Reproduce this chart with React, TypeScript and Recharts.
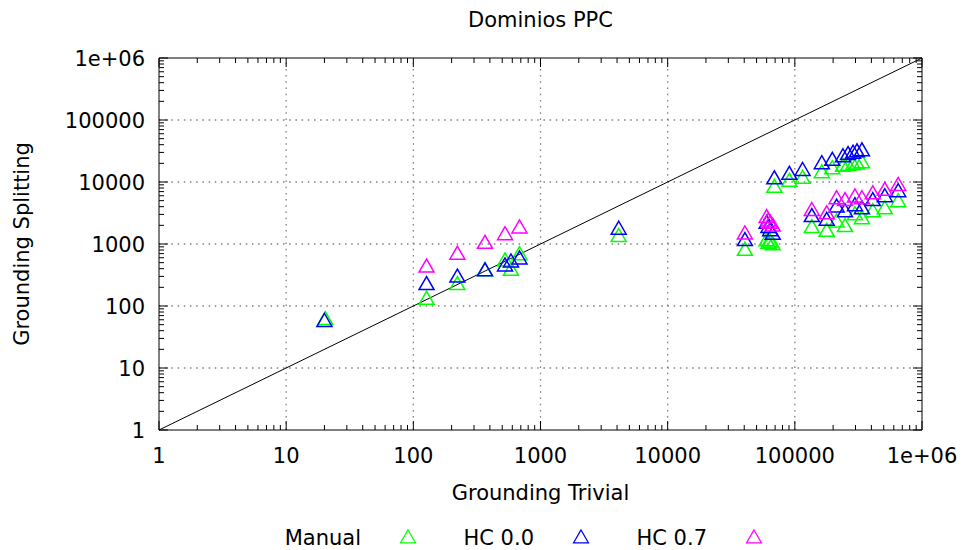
import React from 'react';
import { ScatterChart, Scatter, XAxis, YAxis, ReferenceLine } from 'recharts';

const FONT = '"DejaVu Sans", Verdana, sans-serif';
const TITLE = 'Dominios PPC';
const X_LABEL = 'Grounding Trivial';
const Y_LABEL = 'Grounding Splitting';

const decadeTicks = [1, 10, 100, 1000, 10000, 100000, 1000000];
const decadeLabels = ['1', '10', '100', '1000', '10000', '100000', '1e+06'];
const minorMultipliers = [2, 3, 4, 5, 6, 7, 8, 9];
const gridValues = [10, 100, 1000, 10000, 100000];

const seriesNames = ['Manual', 'HC 0.0', 'HC 0.7'];
const seriesColors = ['#00ff00', '#0000ff', '#ff00ff'];

// Manual (green)
const manualX = [20.3, 127, 222, 366, 526, 586, 684, 4120, 40500, 60000, 62000, 64000, 67000,
  69000, 90500, 115000, 163000, 197000, 239000, 262000, 287000, 308000, 337000,
  136000, 178000, 213000, 248000, 297000, 337000, 410000, 510000, 650000];
const manualY = [59, 125, 216, 360, 520, 368, 657, 1290, 771, 1100, 1000, 1050, 950,
  8000, 10000, 11200, 13800, 16000, 17500, 18000, 18500, 19000, 20000,
  1800, 1560, 2210, 1860, 2900, 2500, 3240, 3600, 4700];

// HC 0.0 (blue)
const hc00X = [20, 127, 222, 366, 526, 586, 684, 4120, 40500, 60000, 62000, 64000, 67000,
  69000, 90500, 115000, 163000, 197000, 239000, 262000, 287000, 308000, 337000,
  136000, 178000, 213000, 248000, 297000, 337000, 410000, 510000, 650000];
const hc00Y = [55, 216, 286, 361, 432, 500, 560, 1690, 1110, 2100, 1800, 1600, 1400,
  11000, 13000, 15000, 19300, 21800, 25000, 27000, 28500, 30000, 31000,
  2700, 2350, 3850, 3240, 4050, 3600, 4900, 5650, 6800];

// HC 0.7 (magenta)
const hc07X = [127, 222, 366, 526, 684, 40500, 60000, 62000, 64000, 67000,
  136000, 178000, 213000, 248000, 297000, 337000, 410000, 510000, 650000];
const hc07Y = [415, 667, 1000, 1380, 1770, 1420, 2600, 2300, 2100, 1900,
  3400, 3000, 5250, 4900, 5600, 5250, 6300, 7150, 8600];

const toPoints = (xs: number[], ys: number[]) => xs.map((x, i) => ({ x, y: ys[i] }));
const seriesData = [toPoints(manualX, manualY), toPoints(hc00X, hc00Y), toPoints(hc07X, hc07Y)];

const allTicks: number[] = [];
decadeTicks.slice(0, -1).forEach((d) => {
  allTicks.push(d);
  minorMultipliers.forEach((m) => allTicks.push(d * m));
});
allTicks.push(decadeTicks[decadeTicks.length - 1]);

const MAJOR = 9;
const MINOR = 5;
const FS = 21;
const isMajor = (v: number) => decadeTicks.indexOf(v) >= 0;
const labelOf = (v: number) => decadeLabels[decadeTicks.indexOf(v)];

const TRI_W = 15;
const TRI_H = 13;
const triPoints = (cx: number, cy: number) =>
  `${cx},${cy - (2 * TRI_H) / 3} ${cx - TRI_W / 2},${cy + TRI_H / 3} ${cx + TRI_W / 2},${cy + TRI_H / 3}`;

const makeShape = (color: string) => (props: any) => {
  const { cx, cy } = props;
  if (cx == null || cy == null) return <g />;
  return <polygon points={triPoints(cx, cy)} fill="none" stroke={color} strokeWidth={1.5} strokeLinejoin="miter" />;
};

const BottomTick = (props: any) => {
  const { x, y, payload } = props;
  const v = payload.value;
  const major = isMajor(v);
  return (
    <g>
      <line x1={x} y1={y} x2={x} y2={y - (major ? MAJOR : MINOR)} stroke="#000" strokeWidth={1} />
      {major && (
        <text x={x} y={y + 33} textAnchor="middle" fontSize={FS} fontFamily={FONT} fill="#000">
          {labelOf(v)}
        </text>
      )}
    </g>
  );
};

const TopTick = (props: any) => {
  const { x, y, payload } = props;
  const major = isMajor(payload.value);
  return <line x1={x} y1={y} x2={x} y2={y + (major ? MAJOR : MINOR)} stroke="#000" strokeWidth={1} />;
};

const LeftTick = (props: any) => {
  const { x, y, payload } = props;
  const v = payload.value;
  const major = isMajor(v);
  return (
    <g>
      <line x1={x} y1={y} x2={x + (major ? MAJOR : MINOR)} y2={y} stroke="#000" strokeWidth={1} />
      {major && (
        <text x={x - 14} y={y + 7.6} textAnchor="end" fontSize={FS} fontFamily={FONT} fill="#000">
          {labelOf(v)}
        </text>
      )}
    </g>
  );
};

const RightTick = (props: any) => {
  const { x, y, payload } = props;
  const major = isMajor(payload.value);
  return <line x1={x} y1={y} x2={x - (major ? MAJOR : MINOR)} y2={y} stroke="#000" strokeWidth={1} />;
};

const XLabel = (props: any) => {
  const vb = props.viewBox;
  return (
    <text x={vb.x + vb.width / 2} y={vb.y + 70} textAnchor="middle" fontSize={FS} fontFamily={FONT} fill="#000">
      {X_LABEL}
    </text>
  );
};

const YLabel = (props: any) => {
  const vb = props.viewBox;
  const cx = vb.x + 29;
  const cy = vb.y + vb.height / 2;
  return (
    <text x={cx} y={cy} transform={`rotate(-90 ${cx} ${cy})`} textAnchor="middle" fontSize={FS} fontFamily={FONT} fill="#000">
      {Y_LABEL}
    </text>
  );
};

const Overlay = () => (
  <svg width={968} height={550} style={{ position: 'absolute', left: 0, top: 0, pointerEvents: 'none' }}>
    <text x={540.5} y={27} textAnchor="middle" fontSize={FS} fontFamily={FONT} fill="#000">
      {TITLE}
    </text>
    {seriesNames.map((name, i) => {
      const textEnd = 361 + 173 * i;
      const cx = textEnd + 47;
      const cy = 538.5;
      return (
        <g key={name}>
          <text x={textEnd} y={545} textAnchor="end" fontSize={FS} fontFamily={FONT} fill="#000">
            {name}
          </text>
          <polygon points={triPoints(cx, cy)} fill="none" stroke={seriesColors[i]} strokeWidth={1.2} />
        </g>
      );
    })}
  </svg>
);

export default function App() {
  return (
    <div style={{ position: 'absolute', left: 0, top: 0, width: 968, height: 550, background: '#fff' }}>
      <ScatterChart width={968} height={550} margin={{ top: 57, right: 45, bottom: 70, left: 0 }}>
        <XAxis
          xAxisId={0}
          dataKey="x"
          type="number"
          scale="log"
          domain={[1, 1000000]}
          allowDataOverflow
          ticks={allTicks}
          interval={0}
          tickSize={0}
          tickMargin={0}
          height={50}
          axisLine={{ stroke: '#000', strokeWidth: 1 }}
          tickLine={false}
          tick={BottomTick}
          label={{ content: XLabel }}
        />
        <XAxis
          xAxisId="top"
          dataKey="x"
          orientation="top"
          type="number"
          scale="log"
          domain={[1, 1000000]}
          allowDataOverflow
          ticks={allTicks}
          interval={0}
          tickSize={0}
          tickMargin={0}
          height={1}
          axisLine={{ stroke: '#000', strokeWidth: 1 }}
          tickLine={false}
          tick={TopTick}
        />
        <YAxis
          yAxisId={0}
          dataKey="y"
          type="number"
          scale="log"
          domain={[1, 1000000]}
          allowDataOverflow
          ticks={allTicks}
          interval={0}
          tickSize={0}
          tickMargin={0}
          width={159}
          axisLine={{ stroke: '#000', strokeWidth: 1 }}
          tickLine={false}
          tick={LeftTick}
          label={{ content: YLabel }}
        />
        <YAxis
          yAxisId="right"
          dataKey="y"
          orientation="right"
          type="number"
          scale="log"
          domain={[1, 1000000]}
          allowDataOverflow
          ticks={allTicks}
          interval={0}
          tickSize={0}
          tickMargin={0}
          width={1}
          axisLine={{ stroke: '#000', strokeWidth: 1 }}
          tickLine={false}
          tick={RightTick}
        />
        {gridValues.map((v) => (
          <ReferenceLine key={'gx' + v} x={v} xAxisId={0} yAxisId={0} stroke="#808080" strokeWidth={1.3} strokeDasharray="1.5 4.7" />
        ))}
        {gridValues.map((v) => (
          <ReferenceLine key={'gy' + v} y={v} xAxisId={0} yAxisId={0} stroke="#808080" strokeWidth={1.3} strokeDasharray="1.5 4.7" />
        ))}
        <ReferenceLine
          xAxisId={0}
          yAxisId={0}
          segment={[{ x: 1, y: 1 }, { x: 1000000, y: 1000000 }]}
          stroke="#000"
          strokeWidth={1}
        />
        {seriesData.map((d, i) => (
          <Scatter
            key={seriesNames[i]}
            name={seriesNames[i]}
            data={d}
            xAxisId={0}
            yAxisId={0}
            fill={seriesColors[i]}
            shape={makeShape(seriesColors[i])}
            isAnimationActive={false}
          />
        ))}
      </ScatterChart>
      <Overlay />
    </div>
  );
}
